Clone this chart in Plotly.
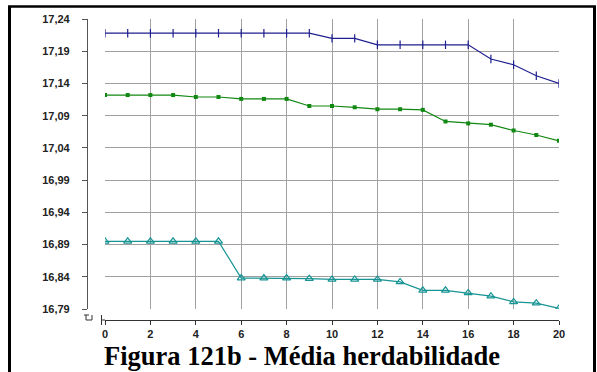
import plotly.graph_objects as go

W, H = 597, 372

x_vals = list(range(21))
serie_azul = [17.218, 17.218, 17.218, 17.218, 17.218, 17.218, 17.218, 17.218, 17.218, 17.218,
              17.210, 17.210, 17.200, 17.200, 17.200, 17.200, 17.200, 17.178, 17.169, 17.152, 17.140]
serie_verde = [17.122, 17.122, 17.122, 17.122, 17.119, 17.119, 17.116, 17.116, 17.116, 17.105,
               17.105, 17.103, 17.100, 17.100, 17.099, 17.081, 17.078, 17.076, 17.067, 17.060, 17.051]
serie_teal = [16.895, 16.895, 16.895, 16.895, 16.895, 16.895, 16.838, 16.838, 16.838, 16.837,
              16.836, 16.836, 16.836, 16.832, 16.819, 16.819, 16.815, 16.810, 16.801, 16.799, 16.791]

y_ticks = [16.79, 16.84, 16.89, 16.94, 16.99, 17.04, 17.09, 17.14, 17.19, 17.24]
x_ticks = list(range(0, 21, 2))
titulo = "Figura 121b - Média herdabilidade"

def px(xp):
    return xp / W

def py(yp):
    return 1 - yp / H

fig = go.Figure()
fig.add_trace(go.Scatter(x=x_vals, y=serie_azul, mode="lines+markers",
                         line=dict(color="#1f1f8f", width=1.2),
                         marker=dict(symbol="line-ns", size=6, line=dict(color="#1f1f8f", width=1.2))))
fig.add_trace(go.Scatter(x=x_vals, y=serie_verde, mode="lines+markers",
                         line=dict(color="#118811", width=1.2),
                         marker=dict(symbol="square", size=4, color="#118811")))
fig.add_trace(go.Scatter(x=x_vals, y=serie_teal, mode="lines+markers",
                         line=dict(color="#179494", width=1.2),
                         marker=dict(symbol="triangle-up-open", size=7, color="#179494",
                                     line=dict(width=1.2))))

fig.update_layout(
    template="none",
    width=W, height=H,
    margin=dict(l=0, r=0, t=0, b=0, pad=0),
    paper_bgcolor="white", plot_bgcolor="white",
    showlegend=False,
    separators=",.",
    xaxis=dict(domain=[px(105), px(559)], range=[0, 20], tickvals=x_ticks,
               anchor="free", position=py(320), automargin=False,
               showgrid=True, gridcolor="#a0a0a0", gridwidth=1,
               showline=True, linecolor="#333", linewidth=1.2,
               ticks="outside", ticklen=4, tickcolor="#333",
               tickfont=dict(family="Liberation Sans", size=11, color="#222", weight="bold"),
               zeroline=False),
    yaxis=dict(domain=[py(309), py(19)], range=[16.79, 17.24], tickvals=y_ticks,
               tickformat=".2f", automargin=False,
               anchor="free", position=px(87),
               showgrid=True, gridcolor="#a0a0a0", gridwidth=1,
               showline=True, linecolor="#555", linewidth=1.2,
               ticks="outside", ticklen=5, tickcolor="#555",
               ticklabelstandoff=10,
               tickfont=dict(family="Liberation Sans", size=11, color="#222", weight="bold"),
               zeroline=False),
)

# outer frame
fig.add_shape(type="line", xref="paper", yref="paper", x0=px(9.5), x1=px(9.5), y0=py(6), y1=py(380),
              line=dict(color="black", width=3))
fig.add_shape(type="line", xref="paper", yref="paper", x0=px(8), x1=px(596), y0=py(6.5), y1=py(6.5),
              line=dict(color="black", width=2.5))
fig.add_shape(type="line", xref="paper", yref="paper", x0=px(594.5), x1=px(594.5), y0=py(6), y1=py(380),
              line=dict(color="black", width=3))

# axis break marks
brk = dict(color="#333", width=1)
for (a, b, c, d) in [(84, 315, 89, 315), (86, 315, 86, 320), (86, 320, 92, 320), (92, 315, 92, 320),
                     (101.5, 315, 101.5, 325), (101.5, 320, 105, 320)]:
    fig.add_shape(type="line", xref="paper", yref="paper", x0=px(a), y0=py(b), x1=px(c), y1=py(d), line=brk)

fig.add_annotation(text=titulo, xref="paper", yref="paper", x=px(302), y=py(356),
                   xanchor="center", yanchor="middle", showarrow=False,
                   font=dict(family="Liberation Serif", size=26.5, color="black", weight="bold"))

fig.write_html("out.html")
